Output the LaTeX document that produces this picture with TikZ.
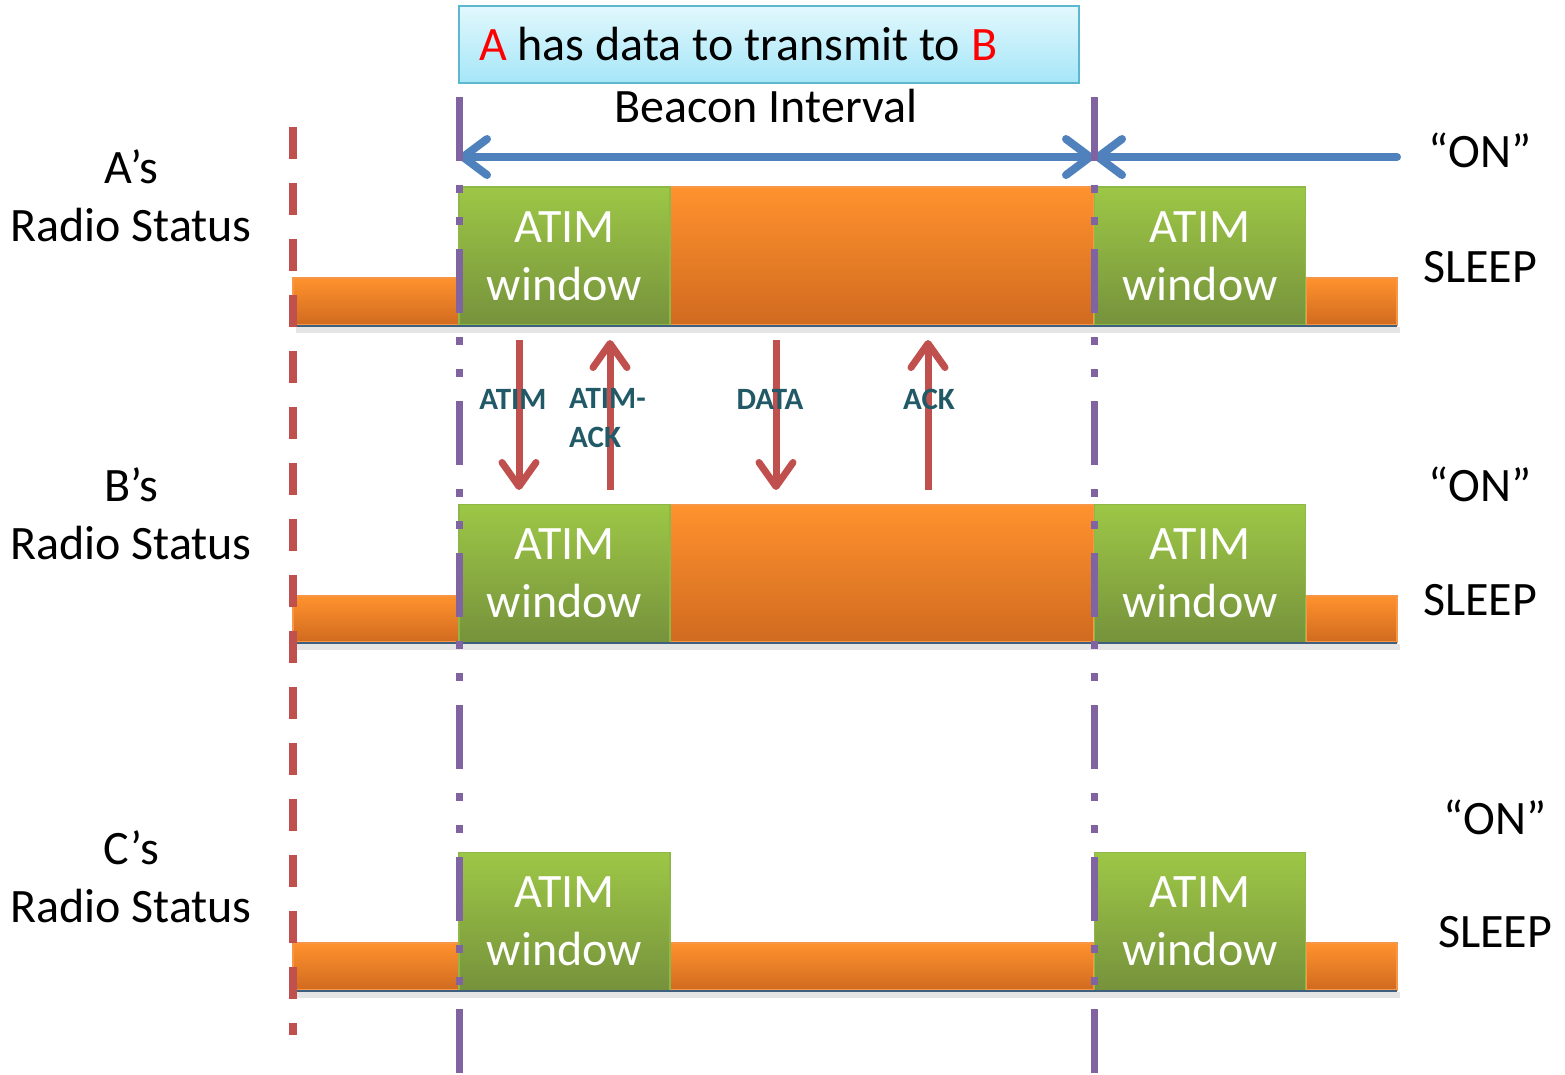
\documentclass[tikz,border=0pt]{standalone}
\usepackage{fontspec}
\setmainfont{Carlito}
\usetikzlibrary{arrows.meta}
\definecolor{grnT}{HTML}{9DC746}
\definecolor{grnB}{HTML}{76923C}
\definecolor{grnE}{HTML}{8DB848}
\definecolor{orgT}{HTML}{FF922E}
\definecolor{orgB}{HTML}{D06A1F}
\definecolor{orgE}{HTML}{F79646}
\definecolor{purp}{HTML}{8064A2}
\definecolor{redl}{HTML}{C0504D}
\definecolor{bluel}{HTML}{4F81BD}
\definecolor{teal}{HTML}{215967}
\definecolor{cyT}{HTML}{E2F8FD}
\definecolor{cyB}{HTML}{A6E6F8}
\definecolor{cyE}{HTML}{5BB8CF}
\definecolor{baseC}{HTML}{3F5F7F}
\tikzset{
  atimbox/.style={draw=grnE, line width=1.5pt, top color=grnT, bottom color=grnB,
    minimum width=211pt, minimum height=138pt, inner sep=0pt, align=center,
    text=white, font=\fontsize{48}{58}\selectfont},
  orangebar/.style={draw=orgE, line width=1.5pt, top color=orgT, bottom color=orgB},
  shadowbar/.style={fill=black, opacity=0.10},
  baseline/.style={draw=baseC, line width=2.5pt},
  purpline/.style={draw=purp, line width=7pt,
    dash pattern=on 64pt off 24pt on 8pt off 24pt on 8pt off 24pt},
  redline/.style={draw=redl, line width=8pt, dash pattern=on 32pt off 24pt},
  bluearrow/.style={draw=bluel, line width=8pt, line cap=round,
    arrows={-{Straight Barb[length=24pt,width=36pt,round]}}},
  redarrow/.style={draw=redl, line width=7pt,
    arrows={-{Straight Barb[length=24pt,width=34pt,round]}}},
  msglbl/.style={text=teal, font=\bfseries\fontsize{31}{39}\selectfont, inner sep=0pt},
  biglbl/.style={font=\fontsize{48}{58}\selectfont, inner sep=0pt, align=center},
}
\begin{document}
\begin{tikzpicture}[x=1pt,y=-1pt]
\useasboundingbox (0,0) rectangle (1565,1074);

% top box
\node[draw=cyE, line width=2pt, top color=cyT, bottom color=cyB,
  minimum width=620pt, minimum height=77pt, inner sep=0pt,
  font=\fontsize{48}{56}\selectfont] (info) at (769,44.5)
  {\makebox[580pt][l]{\textcolor{red}{A} has data to transmit to \textcolor{red}{B}}};
\node[biglbl] (beacon) at (766,106) {Beacon Interval};

% left labels
\node[biglbl] (lA) at (131,196) {A’s\\Radio Status};
\node[biglbl] (lB) at (131,514) {B’s\\Radio Status};
\node[biglbl] (lC) at (131,877) {C’s\\Radio Status};

% right labels
\node[biglbl] (onA) at (1480,150) {“ON”};
\node[biglbl] (slA) at (1480,267) {SLEEP};
\node[biglbl] (onB) at (1480,484) {“ON”};
\node[biglbl] (slB) at (1480,600) {SLEEP};
\node[biglbl] (onC) at (1495,817) {“ON”};
\node[biglbl] (slC) at (1495,932) {SLEEP};

% shadows
\fill[shadowbar] (296,327) rectangle (1400,333);
\fill[shadowbar] (296,644) rectangle (1400,650);
\fill[shadowbar] (296,992) rectangle (1400,998);

% row A
\fill[orangebar] (293,278) rectangle (459,325);
\fill[orangebar] (670,187) rectangle (1094,325);
\fill[orangebar] (1306,278) rectangle (1397,325);
\node[atimbox] (wA1) at (564.5,256) {ATIM\\window};
\node[atimbox] (wA2) at (1200,256) {ATIM\\window};
\draw[baseline] (293,326) -- (1397,326);

% row B
\fill[orangebar] (293,596) rectangle (459,642);
\fill[orangebar] (670,505) rectangle (1094,642);
\fill[orangebar] (1306,596) rectangle (1397,642);
\node[atimbox] (wB1) at (564.5,573.5) {ATIM\\window};
\node[atimbox] (wB2) at (1200,573.5) {ATIM\\window};
\draw[baseline] (293,643) -- (1397,643);

% row C
\fill[orangebar] (293,943) rectangle (459,990);
\fill[orangebar] (670,943) rectangle (1094,990);
\fill[orangebar] (1306,943) rectangle (1397,990);
\node[atimbox] (wC1) at (564.5,921.5) {ATIM\\window};
\node[atimbox] (wC2) at (1200,921.5) {ATIM\\window};
\draw[baseline] (293,991) -- (1397,991);

% blue arrows
\coordinate (bL) at (459,157);
\coordinate (bR) at (1094,157);
\coordinate (bE) at (1397,157);
\draw[bluearrow, arrows={{Straight Barb[length=24pt,width=36pt,round]}-{Straight Barb[length=24pt,width=36pt,round]}}] (bL) -- (bR);
\draw[bluearrow] (bE) -- (bR);

% vertical lines
\coordinate (rT) at (293,127);
\coordinate (rB) at (293,1035);
\draw[redline] (rT) -- (rB);
\coordinate (p1T) at (459,97);
\coordinate (p1B) at (459,1074);
\draw[purpline] (p1T) -- (p1B);
\coordinate (p2T) at (1094,97);
\coordinate (p2B) at (1094,1074);
\draw[purpline] (p2T) -- (p2B);

% message arrows
\coordinate (m1T) at (519,340); \coordinate (m1B) at (519,490);
\coordinate (m2T) at (610,340); \coordinate (m2B) at (610,490);
\coordinate (m3T) at (776,340); \coordinate (m3B) at (776,490);
\coordinate (m4T) at (928,340); \coordinate (m4B) at (928,490);
\draw[redarrow] (m1T) -- (m1B);
\draw[redarrow] (m2B) -- (m2T);
\draw[redarrow] (m3T) -- (m3B);
\draw[redarrow] (m4B) -- (m4T);

\node[msglbl] (tATIM) at (513,399) {ATIM};
\node[msglbl, anchor=west, align=left] (tAACK) at (569,418) {ATIM-\\ACK};
\node[msglbl] (tDATA) at (770,399) {DATA};
\node[msglbl] (tACK) at (929,399) {ACK};
\end{tikzpicture}
\end{document}
